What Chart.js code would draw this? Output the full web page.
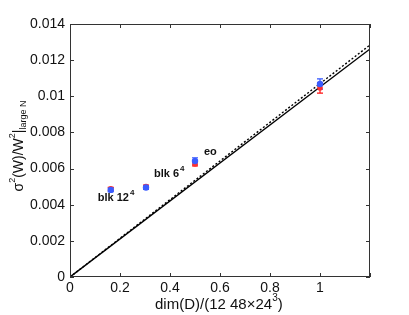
<!DOCTYPE html>
<html>
<head>
<meta charset="utf-8">
<script src="https://cdn.jsdelivr.net/npm/chart.js@4.4.0/dist/chart.umd.min.js"></script>
<style>
  html, body { margin: 0; padding: 0; background: #fff; }
  #wrap { width: 409px; height: 315px; position: relative; }
</style>
</head>
<body>
<div id="wrap"><canvas id="c" width="409" height="315"></canvas></div>
<script>
// data
const xPts      = [0.163, 0.304, 0.5, 1.0];
const blueY     = [0.00482, 0.00495, 0.00642, 0.01068];
const blueErr   = [0.00010, 0.00010, 0.00018, 0.00028];
const redY      = [0.00488, 0.00500, 0.00625, 0.01046];
const redErr    = [0.00008, 0.00008, 0.00010, 0.00028];
const solidLine = [[0, 0], [1.2, 0.01262]];
const dashLine  = [[0, 0], [1.2, 0.01284]];
const ptLabels  = [
  { x: 0.163, y: 0.00482, text: 'blk 12', sup: '4', dx: -13, dy: 8 },
  { x: 0.304, y: 0.00495, text: 'blk 6',  sup: '4', dx: 8,   dy: -14 },
  { x: 0.5,   y: 0.00642, text: 'eo',     sup: '',  dx: 9,   dy: -9 }
];
const xTicks = [0, 0.2, 0.4, 0.6, 0.8, 1, 1.2];
const yTicks = [0, 0.002, 0.004, 0.006, 0.008, 0.01, 0.012, 0.014];

const FONT = 'Liberation Sans, Arial, Helvetica, sans-serif';
const AX = '#333';

const pts = (ys) => xPts.map((x, i) => ({ x, y: ys[i] }));

const extras = {
  id: 'extras',
  beforeDatasetsDraw(chart) {
    // error bars drawn under the markers
    const { ctx, scales: { x, y } } = chart;
    const bars = (ys, errs, col) => {
      ctx.save();
      ctx.strokeStyle = col; ctx.lineWidth = 1.2;
      xPts.forEach((xv, i) => {
        const px = x.getPixelForValue(xv);
        const top = y.getPixelForValue(ys[i] + errs[i]);
        const bot = y.getPixelForValue(ys[i] - errs[i]);
        ctx.beginPath();
        ctx.moveTo(px, top); ctx.lineTo(px, bot);
        ctx.moveTo(px - 3, top); ctx.lineTo(px + 3, top);
        ctx.moveTo(px - 3, bot); ctx.lineTo(px + 3, bot);
        ctx.stroke();
      });
      ctx.restore();
    };
    bars(redY, redErr, '#ff1010');
    bars(blueY, blueErr, '#3355ff');
  },
  afterDraw(chart) {
    const { ctx, chartArea: a, scales: { x, y } } = chart;
    ctx.save();
    ctx.strokeStyle = AX; ctx.lineWidth = 1;
    ctx.strokeRect(a.left + 0.5, a.top + 0.5, a.right - a.left - 1, a.bottom - a.top - 1);
    ctx.beginPath();
    xTicks.forEach(v => {
      const px = Math.round(x.getPixelForValue(v)) + 0.5;
      ctx.moveTo(px, a.bottom); ctx.lineTo(px, a.bottom - 4);
      ctx.moveTo(px, a.top); ctx.lineTo(px, a.top + 4);
    });
    yTicks.forEach(v => {
      const py = Math.round(y.getPixelForValue(v)) + 0.5;
      ctx.moveTo(a.left, py); ctx.lineTo(a.left + 4, py);
      ctx.moveTo(a.right, py); ctx.lineTo(a.right - 4, py);
    });
    ctx.stroke();
    // point labels
    ctx.fillStyle = '#111';
    ctx.textBaseline = 'middle';
    ctx.textAlign = 'left';
    ptLabels.forEach(l => {
      const px = x.getPixelForValue(l.x) + l.dx;
      const py = y.getPixelForValue(l.y) + l.dy;
      ctx.font = 'bold 11px ' + FONT;
      const w = ctx.measureText(l.text).width;
      ctx.fillText(l.text, px, py);
      if (l.sup) {
        ctx.font = 'bold 8px ' + FONT;
        ctx.fillText(l.sup, px + w + 1, py - 5);
      }
    });
    // y axis title
    ctx.save();
    ctx.translate(19, 146);
    ctx.rotate(-Math.PI / 2);
    ctx.fillStyle = '#111';
    ctx.textBaseline = 'middle';
    ctx.textAlign = 'left';
    const ySegs = [['\u03c3', 14, 0], ['2', 9, -6], ['(W)/W', 14, 0], ['2', 9, -6], ['|', 14, 0], ['large N', 9, 5]];
    let total = 0;
    ySegs.forEach(([t, s]) => { ctx.font = s + 'px ' + FONT; total += ctx.measureText(t).width; });
    let cx = -total / 2;
    ySegs.forEach(([t, s, dy]) => {
      ctx.font = s + 'px ' + FONT;
      ctx.fillText(t, cx, dy);
      cx += ctx.measureText(t).width;
    });
    ctx.restore();
    // x axis title
    ctx.fillStyle = '#111';
    ctx.textBaseline = 'middle';
    ctx.textAlign = 'left';
    let tx = 155;
    const xSegs = [['dim(D)/(12 48\u00d724', 15, 0], ['3', 10, -7], [')', 15, 0]];
    xSegs.forEach(([t, s, dy]) => {
      ctx.font = s + 'px ' + FONT;
      ctx.fillText(t, tx, 305 + dy);
      tx += ctx.measureText(t).width;
    });
    ctx.restore();
  }
};

new Chart(document.getElementById('c'), {
  type: 'scatter',
  data: {
    datasets: [
      { type: 'line', order: 3, data: solidLine.map(([x, y]) => ({ x, y })), borderColor: '#000', borderWidth: 1.4, pointRadius: 0, fill: false },
      { type: 'line', order: 2, data: dashLine.map(([x, y]) => ({ x, y })), borderColor: '#000', borderWidth: 1.4, borderDash: [2, 2], pointRadius: 0, fill: false },
      { order: 1, data: pts(redY), backgroundColor: '#ff3030', borderColor: '#ff3030', borderWidth: 0, pointRadius: 2.8, pointStyle: 'circle' },
      { order: 0, data: pts(blueY), backgroundColor: '#3a5cff', borderColor: '#3a5cff', borderWidth: 0, pointRadius: 3.2, pointStyle: 'circle' }
    ]
  },
  options: {
    responsive: false,
    animation: false,
    layout: { padding: { left: 0, right: 39, top: 24, bottom: 0 } },
    plugins: { legend: { display: false }, tooltip: { enabled: false } },
    scales: {
      x: {
        type: 'linear', min: 0, max: 1.2,
        afterBuildTicks: s => { s.ticks = xTicks.map(v => ({ value: v })); },
        afterFit: s => { s.height = 38; },
        grid: { display: false, drawTicks: false },
        border: { display: false },
        ticks: {
          color: '#111', font: { family: FONT, size: 14 }, padding: 3,
          maxRotation: 0, autoSkip: false,
          callback: v => v >= 1.1 ? '' : String(Math.round(v * 10) / 10)
        }
      },
      y: {
        type: 'linear', min: 0, max: 0.014,
        afterBuildTicks: s => { s.ticks = yTicks.map(v => ({ value: v })); },
        afterFit: s => { s.width = 70; },
        grid: { display: false, drawTicks: false },
        border: { display: false },
        ticks: {
          color: '#111', font: { family: FONT, size: 14 }, padding: 5,
          autoSkip: false,
          callback: v => String(Math.round(v * 1000) / 1000)
        }
      }
    }
  },
  plugins: [extras]
});
</script>
</body>
</html>
